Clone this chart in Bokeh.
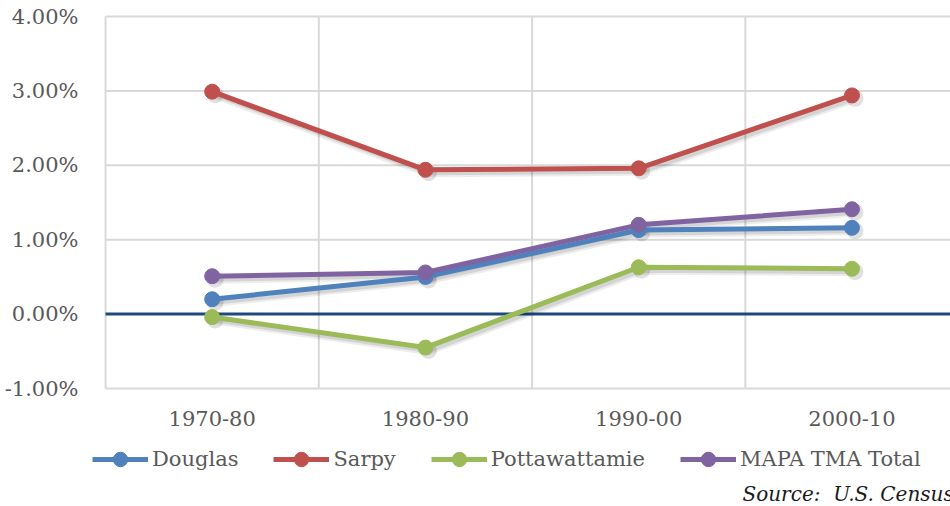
from bokeh.plotting import figure
from bokeh.models import (FixedTicker, NumeralTickFormatter, Legend, LegendItem, Label, Range1d)
from bokeh.embed import file_html
from bokeh.resources import INLINE

periods = ["1970-80", "1980-90", "1990-00", "2000-10"]
douglas = [0.0020, 0.0050, 0.0113, 0.0116]
sarpy = [0.0299, 0.0194, 0.0196, 0.0294]
pottawattamie = [-0.0004, -0.0045, 0.0063, 0.0061]
mapa = [0.0051, 0.0056, 0.0120, 0.0141]
series_names = ["Douglas", "Sarpy", "Pottawattamie", "MAPA TMA Total"]
series_colors = ["#4F81BD", "#C0504D", "#9BBB59", "#8064A2"]
y_ticks = [-0.01, 0.0, 0.01, 0.02, 0.03, 0.04]

FONT = "DejaVu Serif"
TXT = "#595959"
GRID = "#D9D9D9"

n = len(periods)
xpos = [i + 0.5 for i in range(n)]
bounds = list(range(n + 1))

X0, X1 = -0.094, 3.962
Y0, Y1 = -0.02586, 0.04108
SX, SY = 0.014, 0.0004   # ~3px shadow offset

p = figure(width=950, height=506, output_backend="svg", toolbar_location=None,
           x_range=(X0, X1), y_range=(Y0, Y1),
           min_border_left=85, min_border_right=0, min_border_top=8, min_border_bottom=0)
p.extra_x_ranges = {"shadow": Range1d(X0 - SX, X1 - SX)}
p.extra_y_ranges = {"shadow": Range1d(Y0 + SY, Y1 + SY)}
p.outline_line_color = None
p.background_fill_color = "white"
p.border_fill_color = "white"
p.xgrid.visible = False
p.ygrid.visible = False

p.xaxis.ticker = FixedTicker(ticks=xpos)
p.xaxis.major_label_overrides = {x: lab for x, lab in zip(xpos, periods)}
p.xaxis.fixed_location = y_ticks[0]
p.yaxis.ticker = FixedTicker(ticks=y_ticks)
p.yaxis.formatter = NumeralTickFormatter(format="0.00%")
for ax in (p.xaxis[0], p.yaxis[0]):
    ax.axis_line_color = None
    ax.major_tick_line_color = None
    ax.minor_tick_line_color = None
    ax.major_label_text_font = FONT
    ax.major_label_text_font_size = "21px"
    ax.major_label_text_color = TXT
p.yaxis.major_label_standoff = 1
p.xaxis.major_label_standoff = 16

# grid lines limited to the chart area
p.segment(x0=bounds, y0=[y_ticks[0]] * len(bounds), x1=bounds, y1=[y_ticks[-1]] * len(bounds),
          line_color=GRID, line_width=2)
p.segment(x0=[bounds[0]] * len(y_ticks), y0=y_ticks, x1=[bounds[-1]] * len(y_ticks), y1=y_ticks,
          line_color=GRID, line_width=2)
# zero baseline
p.segment(x0=[bounds[0]], y0=[0], x1=[bounds[-1]], y1=[0], line_color="#1F497D", line_width=3)

all_vals = [douglas, sarpy, pottawattamie, mapa]
# soft drop shadows
for vals in all_vals:
    p.line(xpos, vals, line_color="#000000", line_alpha=0.07, line_width=9,
           x_range_name="shadow", y_range_name="shadow")
    p.line(xpos, vals, line_color="#000000", line_alpha=0.10, line_width=5,
           x_range_name="shadow", y_range_name="shadow")
    p.scatter(xpos, vals, size=17, fill_color="#000000", fill_alpha=0.12, line_color=None,
              x_range_name="shadow", y_range_name="shadow")

items = []
for name, vals, col in zip(series_names, all_vals, series_colors):
    r1 = p.line(xpos, vals, line_color=col, line_width=5)
    r2 = p.scatter(xpos, vals, size=15, fill_color=col, line_color=col)
    items.append(LegendItem(label=name, renderers=[r1, r2]))

legend = Legend(items=items, orientation="horizontal", location=(7, 29),
                glyph_width=56, glyph_height=36, label_standoff=4, spacing=35,
                padding=0, margin=0, border_line_color=None, background_fill_alpha=0,
                label_text_font=FONT, label_text_font_size="21px", label_text_color=TXT)
p.add_layout(legend, "center")

p.add_layout(Label(x=657, y=13, x_units="screen", y_units="screen",
                   text="Source:\u00a0 U.S. Census Bureau", text_font=FONT, text_font_style="italic",
                   text_font_size="20px", text_color="#1a1a1a", text_baseline="middle"))

open("out.html", "w").write(file_html(p, INLINE))
